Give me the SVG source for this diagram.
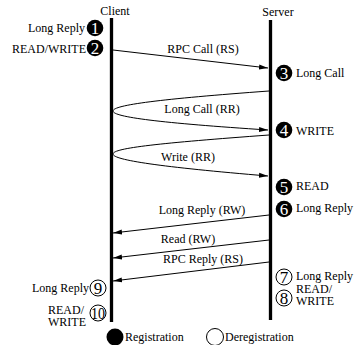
<svg xmlns="http://www.w3.org/2000/svg" width="354" height="345" viewBox="0 0 354 345" font-family="'Liberation Serif', 'Times New Roman', Times, 'DejaVu Serif', serif">
<style>
text{font-family:"Liberation Serif","Times New Roman",Times,"DejaVu Serif",serif;font-size:12px;fill:#000}
.life{stroke:#000;stroke-width:3.3}
.msg{fill:none;stroke:#000;stroke-width:1}
.reg{fill:#000}
.dereg{fill:#fff;stroke:#000;stroke-width:1}
.nw{fill:#fff;font-size:17px;text-anchor:middle}
.nb{fill:#000;font-size:17px;text-anchor:middle}
.r{text-anchor:end}
.m{text-anchor:middle}
</style>
<defs>
<marker id="ah" markerUnits="userSpaceOnUse" markerWidth="9" markerHeight="6" refX="9" refY="3" orient="auto">
<path d="M0,0.5 L9,3 L0,5.5 z" fill="#000"/>
</marker>
</defs>
<rect width="354" height="345" fill="#fff"/>
<g id="client">
<line class="life" x1="111.5" y1="18" x2="111.5" y2="322"/>
<text x="115" y="15" class="m">Client</text>
</g>
<g id="server">
<line class="life" x1="270.5" y1="20" x2="270.5" y2="320"/>
<text x="278" y="16" class="m">Server</text>
</g>
<g id="connectors">
<path class="msg" d="M113,50 L268,68" marker-end="url(#ah)"/>
<path class="msg" d="M269,91 C160,99 113,105 113,111 C113,117 160,123 268,130" marker-end="url(#ah)"/>
<path class="msg" d="M269,135 C160,143 113,148 113,154 C113,160 160,167 268,176" marker-end="url(#ah)"/>
<path class="msg" d="M269,215 L113,233" marker-end="url(#ah)"/>
<path class="msg" d="M269,240 L113,258" marker-end="url(#ah)"/>
<path class="msg" d="M269,262 L113,281" marker-end="url(#ah)"/>
<text x="203" y="53" class="m">RPC Call (RS)</text>
<text x="202" y="113" class="m">Long Call (RR)</text>
<text x="188" y="161" class="m">Write (RR)</text>
<text x="202" y="214" class="m">Long Reply (RW)</text>
<text x="188" y="243" class="m">Read (RW)</text>
<text x="203" y="263" class="m">RPC Reply (RS)</text>
</g>
<g id="s1">
<circle class="reg" cx="95" cy="28" r="8.3"/>
<text class="nw" x="95" y="34">1</text>
<text class="r" x="85" y="32">Long Reply</text>
</g>
<g id="s2">
<circle class="reg" cx="95" cy="48" r="8.3"/>
<text class="nw" x="95" y="54">2</text>
<text class="r" x="86" y="53">READ/WRITE</text>
</g>
<g id="s3">
<circle class="reg" cx="284" cy="73" r="8.3"/>
<text class="nw" x="284" y="79">3</text>
<text x="296" y="77">Long Call</text>
</g>
<g id="s4">
<circle class="reg" cx="284" cy="130" r="8.3"/>
<text class="nw" x="284" y="136">4</text>
<text x="296" y="135">WRITE</text>
</g>
<g id="s5">
<circle class="reg" cx="284" cy="187" r="8.3"/>
<text class="nw" x="284" y="193">5</text>
<text x="296" y="190">READ</text>
</g>
<g id="s6">
<circle class="reg" cx="284" cy="209" r="8.3"/>
<text class="nw" x="284" y="215">6</text>
<text x="296" y="212">Long Reply</text>
</g>
<g id="s7">
<circle class="dereg" cx="284" cy="277" r="8"/>
<text class="nb" x="284" y="283">7</text>
<text x="296" y="280">Long Reply</text>
</g>
<g id="s8">
<circle class="dereg" cx="284" cy="298" r="8"/>
<text class="nb" x="284" y="304">8</text>
<text x="296" y="292.5">READ/</text>
<text x="296" y="305">WRITE</text>
</g>
<g id="s9">
<circle class="dereg" cx="98" cy="288" r="8"/>
<text class="nb" x="98" y="294">9</text>
<text class="r" x="89" y="292">Long Reply</text>
</g>
<g id="s10">
<circle class="dereg" cx="98" cy="313" r="8"/>
<text class="nb" x="98" y="319" textLength="14" lengthAdjust="spacingAndGlyphs">10</text>
<text x="48" y="313.5">READ/</text>
<text x="48" y="326">WRITE</text>
</g>
<g id="legend">
<circle class="reg" cx="115" cy="337" r="8.5"/>
<text x="125" y="341">Registration</text>
<circle class="dereg" cx="215" cy="337" r="8.5"/>
<text x="225" y="341">Deregistration</text>
</g>
</svg>
